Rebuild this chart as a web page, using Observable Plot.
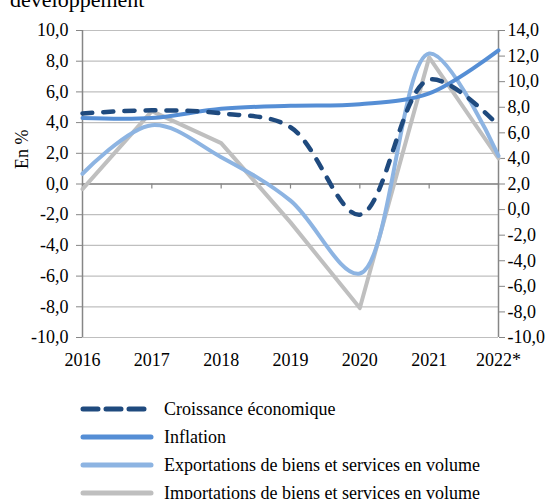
<!DOCTYPE html>
<html>
<head>
<meta charset="utf-8">
<script src="https://cdn.jsdelivr.net/npm/d3@7"></script>
<script src="https://cdn.jsdelivr.net/npm/@observablehq/plot@0.6"></script>
<style>
  html, body { margin: 0; padding: 0; background: #fff; overflow: hidden; }
  body { width: 552px; height: 499px; position: relative; font-family: "Liberation Serif", "Times New Roman", serif; }
  #title { position: absolute; left: 10px; top: -13px; font-size: 22px; color: #000; white-space: nowrap; z-index: 5; }
  #chart { position: absolute; left: 0; top: 0; }
  #legend { position: absolute; left: 0; top: 395px; width: 552px; }
  .row { display: flex; align-items: center; height: 28px; font-size: 18px; color: #000; }
  .row svg { margin-left: 80px; margin-right: 8px; }
</style>
</head>
<body>
<div id="chart"></div>
<div id="title">développement</div>
<div id="legend"></div>
<script>
// ---- data ----
const years = [2016, 2017, 2018, 2019, 2020, 2021, 2022];
const yearLabels = ["2016", "2017", "2018", "2019", "2020", "2021", "2022*"];
const croissance = [4.6, 4.8, 4.6, 3.7, -2.0, 6.8, 3.8];       // axe gauche
const inflation = [4.3, 4.3, 4.9, 5.1, 5.2, 5.9, 8.7];         // axe gauche
const exportations = [2.8, 6.6, 4.1, 0.7, -5.0, 12.2, 4.2];    // axe droit
const importations = [1.6, 7.7, 5.2, -1.0, -7.7, 11.9, 4.0];   // axe droit
const leftTicks = [-10, -8, -6, -4, -2, 0, 2, 4, 6, 8, 10];
const rightTicks = [-10, -8, -6, -4, -2, 0, 2, 4, 6, 8, 10, 12, 14];
const seriesNames = ["Croissance économique", "Inflation", "Exportations de biens et services en volume", "Importations de biens et services en volume"];
const seriesColors = ["#1f4a7e", "#558ed5", "#8db4e2", "#bfbfbf"];

// right axis [-10,14] mapped onto left axis [-10,10]
const toLeft = r => -10 + (r + 10) * 20 / 24;
const toRight = l => -10 + (l + 10) * 24 / 20;
const fmt = v => (Math.round(v * 10) / 10).toFixed(1).replace(".", ",");

const rows = (vals, conv) => years.map((y, i) => ({year: y, value: conv ? conv(vals[i]) : vals[i]}));

const font = "'Liberation Serif', 'Times New Roman', serif";

const chart = Plot.plot({
  width: 552,
  height: 380,
  marginTop: 30,
  marginBottom: 43,
  marginLeft: 82,
  marginRight: 54,
  style: {fontFamily: font, fontSize: "18px", color: "#000", background: "transparent"},
  x: {type: "linear", domain: [2016, 2022]},
  y: {domain: [-10, 10]},
  marks: [
    Plot.ruleY(leftTicks, {stroke: "#bfbfbf", strokeWidth: 1.2}),
    Plot.ruleY([0], {stroke: "#868686", strokeWidth: 1.5}),
    Plot.ruleX(years, {x: d => d, y1: 0, y2: 0, insetBottom: -5, stroke: "#868686", strokeWidth: 1.2}),
    Plot.ruleX([2016, 2022], {stroke: "#868686", strokeWidth: 1.5}),
    Plot.axisY(leftTicks, {anchor: "left", tickSize: 6, tickPadding: 8, stroke: "#868686", fill: "#000", fontVariant: "normal", fontSize: 18, tickFormat: fmt, label: null}),
    Plot.axisY(rightTicks.map(toLeft), {anchor: "right", tickSize: 6, tickPadding: 3, stroke: "#868686", fill: "#000", fontVariant: "normal", fontSize: 18, tickFormat: v => fmt(toRight(v)), label: null}),
    Plot.axisX(years, {anchor: "bottom", tickSize: 0, tickPadding: 16, fill: "#000", fontVariant: "normal", fontSize: 18, tickFormat: d => yearLabels[years.indexOf(d)], label: null}),
    Plot.text(["En %"], {frameAnchor: "left", rotate: -90, dx: -60, dy: -15, fontSize: 18}),
    Plot.line(rows(importations, toLeft), {x: "year", y: "value", stroke: seriesColors[3], strokeWidth: 4, curve: "linear"}),
    Plot.line(rows(exportations, toLeft), {x: "year", y: "value", stroke: seriesColors[2], strokeWidth: 4, curve: "catmull-rom"}),
    Plot.line(rows(inflation), {x: "year", y: "value", stroke: seriesColors[1], strokeWidth: 4, curve: "catmull-rom"}),
    Plot.line(rows(croissance), {x: "year", y: "value", stroke: seriesColors[0], strokeWidth: 4.5, curve: "catmull-rom", strokeDasharray: "10,11", strokeLinecap: "round"})
  ]
});
chart.querySelectorAll("g, text").forEach(el => {
  el.style.fontFamily = "'Liberation Serif', 'Times New Roman', serif";
  el.style.fontVariant = "normal";
  el.removeAttribute("font-variant");
});
document.getElementById("chart").appendChild(chart);

const legend = document.getElementById("legend");
seriesNames.forEach((name, i) => {
  const row = document.createElement("div");
  row.className = "row";
  const dash = i === 0 ? ' stroke-dasharray="15,8"' : '';
  row.innerHTML = `<svg width="76" height="10"><line x1="3" y1="5" x2="71" y2="5" stroke="${seriesColors[i]}" stroke-width="5" stroke-linecap="round"${dash}/></svg><span>${name}</span>`;
  legend.appendChild(row);
});
</script>
</body>
</html>
